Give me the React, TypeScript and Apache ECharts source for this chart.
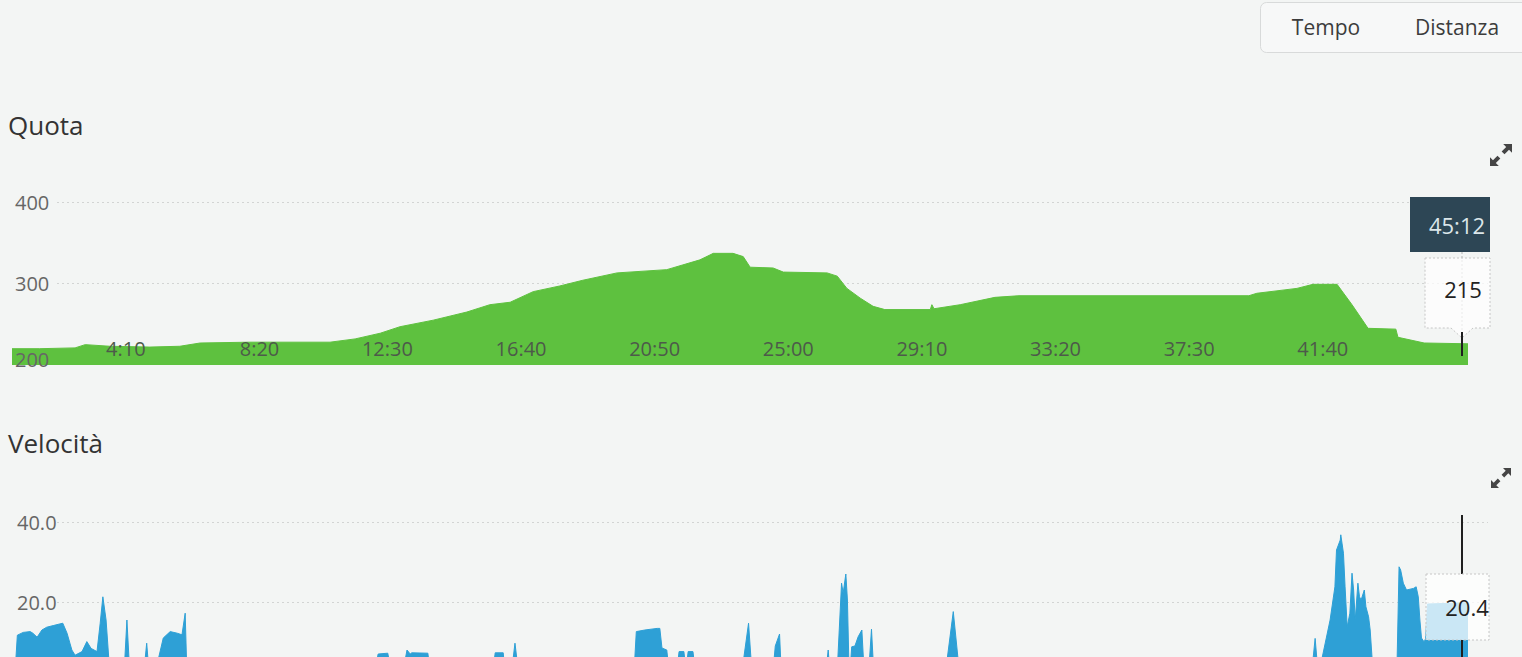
import React, { useEffect, useRef } from "react";
import * as echarts from "echarts";

// ---- Data ----
// Quota (elevation, m) vs elapsed time (s)
const quotaTimes = [
  0, 52, 118, 137, 183, 258, 314, 352, 445, 595, 642, 689, 726, 788, 851, 894,
  932, 975, 1025, 1068, 1132, 1225, 1287, 1312, 1349, 1368, 1381, 1424, 1443,
  1525, 1544, 1562, 1587, 1611, 1633, 1718, 1721, 1725, 1774, 1839, 1884, 2314,
  2329, 2404, 2434, 2479, 2507, 2537, 2589, 2593, 2642, 2724,
];
const quotaValues = [
  220, 220, 221, 225, 223, 222, 223, 227, 228, 228, 232, 239, 247, 255, 265, 274,
  277, 290, 297, 304, 313, 317, 329, 337, 337, 333, 320, 319, 314,
  313, 309, 294, 282, 272, 268, 268, 274, 269, 274, 283, 285, 285,
  288, 294, 299, 299, 274, 245, 244, 234, 227, 226,
];

// Velocità (km/h) vs elapsed time (s)
const speedTimes = [
  0, 6, 10, 21, 34, 39, 47, 56, 65, 77, 95, 103, 112, 118, 131, 140, 148, 159, 165, 170, 176, 181, 183,
  210, 215, 220,
  247, 252, 256,
  269, 283, 296, 309, 318, 324, 327,
  679, 685, 703, 709,
  732, 739, 745, 748, 778, 782,
  900, 904, 919, 922,
  935, 941, 947,
  1164, 1168, 1184, 1207, 1212, 1216, 1225, 1229,
  1244, 1248, 1257, 1261, 1265, 1274, 1278,
  1366, 1378, 1384,
  1424, 1428, 1436, 1439,
  1523, 1527, 1530,
  1544, 1552, 1555, 1560, 1563, 1566,
  1568, 1571, 1577, 1583, 1590, 1594,
  1603, 1608, 1612,
  1747, 1761, 1772,
  2432, 2438, 2443,
  2447, 2451, 2466, 2475, 2478, 2485, 2486, 2491, 2494, 2498, 2503, 2507, 2510, 2513, 2518, 2521, 2524, 2530, 2533, 2538, 2541, 2546,
  2591, 2595, 2598, 2603, 2609, 2622, 2627, 2631, 2634, 2637, 2642, 2645, 2648, 2724,
];
const speedValues = [
  3, 3, 11.7, 12.4, 12.6, 12.2, 11.2, 13, 13.7, 14.1, 14.7, 12.2, 8, 6.7, 7.6, 10.1, 8.4, 7.6, 14.7, 21.3, 15.5, 6, 3,
  3, 15.5, 3,
  3, 9.7, 3,
  3, 11, 12.6, 12.2, 11.8, 17.2, 3,
  3, 7, 7.2, 3,
  3, 8, 7, 7.3, 7.2, 3,
  3, 7.3, 7.3, 3,
  3, 9.7, 3,
  3, 12.6, 13, 13.4, 13.4, 8.5, 8, 3,
  3, 7.6, 7.6, 3, 7.6, 7.6, 3,
  3, 14.7, 3,
  3, 9, 12, 3,
  3, 8, 3,
  3, 24.7, 22.2, 27, 20.5, 3,
  3, 8.8, 9, 11.3, 13, 3,
  3, 13.2, 3,
  3, 17.6, 3,
  3, 10.9, 3,
  3, 6, 15.5, 23.8, 33, 35.5, 36.8, 32.2, 23.8, 13.8, 17.2, 27.2, 23, 15.5, 24.7, 21.3, 20.5, 23, 18.8, 16.3, 13, 3,
  3, 28.8, 28, 24.7, 23, 23.4, 23.8, 21.3, 15.5, 11, 10, 11, 19.5, 19.8,
];

const timeMax = 2724;
const timeTickStep = 250; // 4:10
const quotaAxis = { min: 200, max: 400, interval: 100 };
const speedAxis = { min: 0, max: 40, interval: 20 };
const cursorTime = 2712; // 45:12
const cursorTimeLabel = "45:12";
const cursorQuotaLabel = "215";
const cursorSpeedLabel = "20.4";
const toggleLabels = ["Tempo", "Distanza"];
const chartTitles = ["Quota", "Velocità"];

const ICON_PATH =
  "M12 0 L20 0 L20 8 L17.3 5.3 L13.2 9.4 L10.6 6.8 L14.7 2.7 Z M0 12 L2.7 14.7 L6.8 10.6 L9.4 13.2 L5.3 17.3 L8 20 L0 20 Z";

const FONT = '"Open Sans", "Noto Sans", sans-serif';
const BG = "#f3f5f4";
const VIEW_W = 1522;
const VIEW_H = 657;
const CANVAS_H = 700; // chart continues below the visible page, like the reference

function fmtTime(t: number): string {
  const m = Math.floor(t / 60);
  const s = Math.round(t % 60);
  return m + ":" + String(s).padStart(2, "0");
}

export default function App() {
  const ref = useRef<HTMLDivElement | null>(null);

  useEffect(() => {
    if (!ref.current) return;
    echarts.graphic.registerShape("expandIcon", echarts.graphic.extendPath(ICON_PATH, {}) as any);
    const chart = echarts.init(ref.current, null, { renderer: "svg", width: VIEW_W, height: CANVAS_H });

    const quotaData = quotaTimes.map((t, i) => [t, quotaValues[i]]);
    const speedData = speedTimes.map((t, i) => [t, speedValues[i]]);

    const gridLineStyle = {
      color: ["rgba(0,0,0,0)", "#d2d4d3", "#d2d4d3"],
      type: [2, 3] as any,
      width: 1,
    };

    const hiddenX = (gi: number) => ({
      gridIndex: gi,
      type: "value",
      min: 0,
      max: 1,
      show: false,
    });

    const option: any = {
      animation: false,
      backgroundColor: BG,
      textStyle: { fontFamily: FONT },
      grid: [
        { left: 12, top: 202, width: 1456, height: 163 },
        { left: 57, top: 202, width: 1431, height: 163 },
        { left: 12, top: 522, width: 1456, height: 160 },
        { left: 57, top: 522, width: 1431, height: 160 },
      ],
      xAxis: [
        {
          gridIndex: 0,
          type: "value",
          min: 0,
          max: timeMax,
          interval: timeTickStep,
          axisLine: { show: false },
          axisTick: { show: false },
          splitLine: { show: false },
          axisLabel: {
            inside: true,
            align: "right",
            margin: 7,
            showMinLabel: false,
            showMaxLabel: false,
            formatter: (v: number) => fmtTime(v),
            color: "#4d5a4a",
            fontSize: 20,
            fontFamily: FONT,
          },
          z: 5,
        },
        hiddenX(1),
        {
          gridIndex: 2,
          type: "value",
          min: 0,
          max: timeMax,
          interval: timeTickStep,
          axisLine: { show: false },
          axisTick: { show: false },
          splitLine: { show: false },
          axisLabel: { show: false },
        },
        hiddenX(3),
      ],
      yAxis: [
        {
          gridIndex: 0,
          type: "value",
          ...quotaAxis,
          axisLine: { show: false },
          axisTick: { show: false },
          splitLine: { show: false },
          z: 5,
          axisLabel: {
            inside: true,
            margin: 3,
            color: "#666",
            fontSize: 20,
            fontFamily: FONT,
            formatter: (v: number) => (v === quotaAxis.min ? "{low|" + v + "}" : String(v)),
            rich: {
              low: { color: "#666", fontSize: 20, fontFamily: FONT, padding: [0, 0, 12, 0] },
            },
          },
        },
        {
          gridIndex: 1,
          type: "value",
          ...quotaAxis,
          axisLine: { show: false },
          axisTick: { show: false },
          axisLabel: { show: false },
          splitLine: { show: true, lineStyle: gridLineStyle },
        },
        {
          gridIndex: 2,
          type: "value",
          ...speedAxis,
          axisLine: { show: false },
          axisTick: { show: false },
          splitLine: { show: false },
          z: 5,
          axisLabel: {
            inside: true,
            margin: 5,
            color: "#666",
            fontSize: 20,
            fontFamily: FONT,
            showMinLabel: false,
            formatter: (v: number) => v.toFixed(1),
          },
        },
        {
          gridIndex: 3,
          type: "value",
          ...speedAxis,
          axisLine: { show: false },
          axisTick: { show: false },
          axisLabel: { show: false },
          splitLine: { show: true, lineStyle: gridLineStyle },
        },
      ],
      series: [
        {
          name: "Quota",
          type: "line",
          xAxisIndex: 0,
          yAxisIndex: 0,
          data: quotaData,
          showSymbol: false,
          symbol: "none",
          lineStyle: { width: 1, color: "#5ec13f" },
          areaStyle: { color: "#5ec13f", opacity: 1 },
          z: 2,
        },
        {
          name: "Velocità",
          type: "line",
          xAxisIndex: 2,
          yAxisIndex: 2,
          data: speedData,
          showSymbol: false,
          symbol: "none",
          lineStyle: { width: 1, color: "#2ea0d6" },
          areaStyle: { color: "#2ea0d6", opacity: 1 },
          z: 2,
        },
      ],
    };

    chart.setOption(option);

    const cx = Math.round(
      (chart.convertToPixel({ xAxisIndex: 0, yAxisIndex: 0 } as any, [cursorTime, quotaAxis.min]) as number[])[0]
    );

    const txt = (text: string, x: number, y: number, size: number, fill: string, align = "left", z = 102) => ({
      type: "text",
      z,
      style: {
        text,
        x,
        y,
        fill,
        fontSize: size,
        fontFamily: FONT,
        align,
        verticalAlign: "middle",
        textAlign: align,
        textVerticalAlign: "middle",
      },
    });

    const vline = (x: number, y1: number, y2: number, stroke: string, w: number, dash?: number[]) => ({
      type: "line",
      z: 100,
      shape: { x1: x, y1, x2: x, y2 },
      style: { stroke, lineWidth: w, lineDash: dash },
    });

    const graphics: any[] = [
      // toggle
      {
        type: "rect",
        z: 100,
        shape: { x: 1260.5, y: 2.5, width: 300, height: 50, r: 6 },
        style: { fill: "#f7f8f8", stroke: "#d8dada", lineWidth: 1 },
      },
      txt(toggleLabels[0], 1326, 27, 21, "#3c3c3c", "center"),
      txt(toggleLabels[1], 1457, 27, 21, "#3c3c3c", "center"),
      // titles
      txt(chartTitles[0], 8, 125, 26, "#333"),
      txt(chartTitles[1], 8, 443, 26, "#333"),
      // expand icons
      { type: "expandIcon", z: 100, x: 1490, y: 144, scaleX: 1.1, scaleY: 1.1, style: { fill: "#454545" } },
      { type: "expandIcon", z: 100, x: 1491, y: 468, scaleX: 1.0, scaleY: 1.0, style: { fill: "#454545" } },
      // quota cursor
      vline(cx, 252, 332, "#b5b5b5", 1, [2, 2]),
      {
        type: "polygon",
        z: 100,
        shape: {
          points: [
            [cx - 37, 258],
            [cx + 28, 258],
            [cx + 28, 328],
            [cx + 11, 328],
            [cx, 338],
            [cx - 11, 328],
            [cx - 37, 328],
          ],
        },
        style: { fill: "rgba(255,255,255,0.72)", stroke: "#c6c6c6", lineWidth: 1, lineDash: [2, 2] },
      },
      {
        type: "rect",
        z: 101,
        shape: { x: cx - 52, y: 197, width: 80, height: 55 },
        style: { fill: "#2d4655" },
      },
      txt(cursorTimeLabel, cx - 5, 225, 22, "#dce6ea", "center", 103),
      txt(cursorQuotaLabel, cx + 1, 289, 22, "#222", "center", 103),
      vline(cx, 332, 356, "#1f1f1f", 2),
      // speed cursor
      vline(cx, 515, 574, "#1f1f1f", 2),
      {
        type: "rect",
        z: 100,
        shape: { x: cx - 36, y: 574, width: 63, height: 66 },
        style: { fill: "rgba(255,255,255,0.75)", stroke: "#c6c6c6", lineWidth: 1, lineDash: [2, 2] },
      },
      txt(cursorSpeedLabel, cx + 5, 607, 22, "#222", "center", 103),
      vline(cx, 640, 690, "#1f1f1f", 2),
    ];

    chart.setOption({ graphic: graphics });

    return () => {
      chart.dispose();
    };
  }, []);

  return (
    <div
      style={{
        position: "absolute",
        left: 0,
        top: 0,
        width: VIEW_W,
        height: VIEW_H,
        overflow: "hidden",
        background: BG,
      }}
    >
      <div ref={ref} style={{ width: VIEW_W, height: CANVAS_H }} />
    </div>
  );
}
